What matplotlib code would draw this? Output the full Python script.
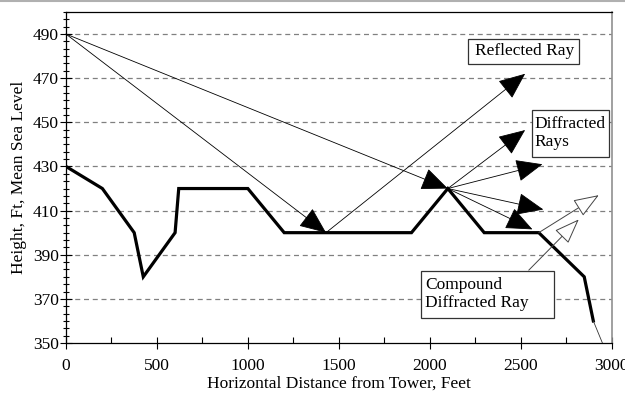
import matplotlib.pyplot as plt
from matplotlib.ticker import MultipleLocator
from matplotlib.lines import Line2D
from matplotlib.patches import Rectangle

plt.rcParams['font.family'] = ['Liberation Serif', 'DejaVu Serif']

# terrain profile
terrain_x = [0, 200, 375, 425, 600, 620, 1000, 1200, 1900, 2100, 2300, 2600, 2850, 2900]
terrain_y = [430, 420, 400, 380, 400, 420, 420, 400, 400, 420, 400, 400, 380, 360]
tail_x = [2900, 2950]
tail_y = [360, 350]

tower = (0, 490)
reflect_pt = (1430, 400)
diffract_pt = (2100, 420)
compound_pt = (2600, 400)

# direct rays from the tower (filled heads)
direct_ends = [reflect_pt, diffract_pt]
reflected_end = (2525, 472)
diffracted_ends = [(2525, 446.5), (2620, 431), (2625, 410.5), (2565, 401.5)]
# compound diffracted ray (open heads)
compound_end = (2930, 417)
label_arrow = [(2545, 383), (2820, 406)]

xticks = [0, 500, 1000, 1500, 2000, 2500, 3000]
yticks = [350, 370, 390, 410, 430, 450, 470, 490]

# label boxes: text, text anchor, box (x0, x1, y0, y1)
labels = ['Reflected Ray', 'Diffracted\nRays', 'Compound\nDiffracted Ray']
label_pos = [(2249, 482.1), (2579, 445.2), (1974, 372.2)]
label_box = [(2211, 2821, 476.4, 487.8), (2563, 2986, 434.3, 455.6), (1952, 2683, 361.3, 382.6)]

fig = plt.figure(figsize=(6.25, 3.93), dpi=100)
ax = fig.add_axes([66 / 625, 1 - 343 / 393, 545.5 / 625, 331 / 393])

ax.set_xlim(0, 3000)
ax.set_ylim(350, 500)
ax.set_xticks(xticks)
ax.set_yticks(yticks)
ax.xaxis.set_minor_locator(MultipleLocator(250))
ax.yaxis.set_minor_locator(MultipleLocator(10 / 3))
ax.tick_params(axis='x', which='major', direction='inout', length=8, width=0.8, labelsize=12.5, pad=7)
ax.tick_params(axis='x', which='minor', direction='in', length=4, width=0.8)
ax.tick_params(axis='y', which='major', direction='inout', length=8, width=0.8, labelsize=12.5, pad=1)
ax.tick_params(axis='y', which='minor', direction='inout', length=5, width=0.8)

for v in yticks[1:]:
    ax.axhline(v, color='#808080', lw=0.9, ls=(0, (4, 3)), zorder=0)

for s in ['left', 'bottom', 'top']:
    ax.spines[s].set_color('black')
    ax.spines[s].set_linewidth(0.9)
ax.spines['right'].set_color('#909090')
ax.spines['right'].set_linewidth(1.2)

ax.plot(terrain_x, terrain_y, color='black', lw=2.3, solid_joinstyle='miter', zorder=3)
ax.plot(tail_x, tail_y, color='#333333', lw=0.6, zorder=3)

filled = dict(arrowstyle='-|>,head_length=0.85,head_width=0.36', mutation_scale=20,
              color='black', lw=0.6, shrinkA=0, shrinkB=0)
hollow = dict(arrowstyle='-|>,head_length=0.8,head_width=0.3', mutation_scale=20,
              facecolor='white', edgecolor='#444444', lw=0.7, shrinkA=0, shrinkB=0)

for end in direct_ends:
    ax.annotate('', xy=end, xytext=tower, arrowprops=filled, zorder=4)
ax.annotate('', xy=reflected_end, xytext=reflect_pt, arrowprops=filled, zorder=4)
for end in diffracted_ends:
    ax.annotate('', xy=end, xytext=diffract_pt, arrowprops=filled, zorder=4)
ax.annotate('', xy=compound_end, xytext=compound_pt, arrowprops=hollow, zorder=4)
ax.annotate('', xy=label_arrow[1], xytext=label_arrow[0], arrowprops=hollow, zorder=4)

for txt, (tx, ty), (x0, x1, y0, y1) in zip(labels, label_pos, label_box):
    ax.add_patch(Rectangle((x0, y0), x1 - x0, y1 - y0, fc='white', ec='#333333', lw=0.9, zorder=5))
    ax.text(tx, ty, txt, fontsize=12.5, va='center', ha='left', linespacing=1.2, zorder=6)

ax.set_xlabel('Horizontal Distance from Tower, Feet', fontsize=12.5, labelpad=1)
ax.set_ylabel('Height, Ft, Mean Sea Level', fontsize=12.5, labelpad=4)

fig.add_artist(Line2D([0, 1], [0.998, 0.998], transform=fig.transFigure, color='#b0b0b0', lw=1.5))

fig.savefig('out.png', dpi=100)
